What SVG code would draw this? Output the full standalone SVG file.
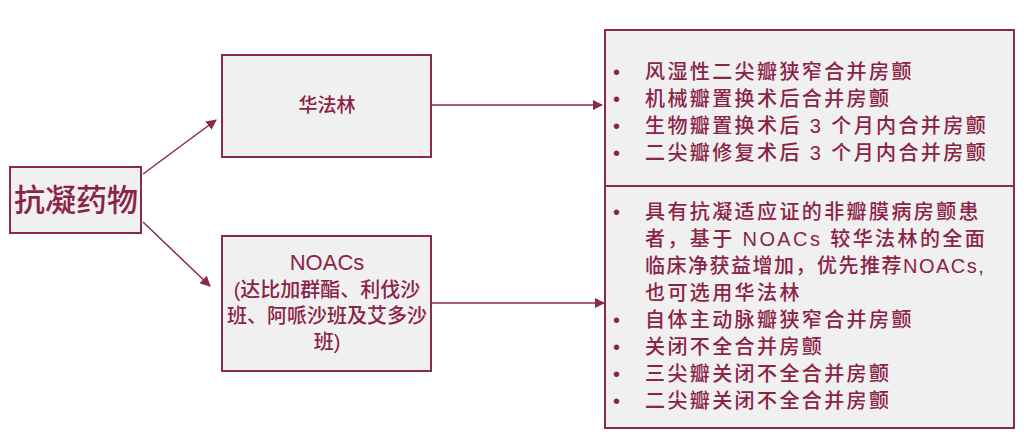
<svg xmlns="http://www.w3.org/2000/svg" width="1024" height="438" viewBox="0 0 1024 438">
<style>
.box{fill:#f0f0f0;stroke:#8b2a4b;stroke-width:2}
text{font-family:"Liberation Sans","Noto Sans CJK SC",sans-serif;fill:#8b2346;dominant-baseline:central;font-weight:500}
.c{text-anchor:middle}
.l{font-size:20px}
.r{font-size:20px;letter-spacing:2.4px}
.con{stroke:#8b2a4b;stroke-width:1.5;fill:none;marker-end:url(#a)}
</style>
<defs><marker id="a" viewBox="0 0 10 10" refX="9" refY="5" markerWidth="7" markerHeight="7" orient="auto"><path d="M0,0L10,5L0,10z" fill="#8b2a4b"/></marker></defs>
<rect width="1024" height="438" fill="#fff"/>
<g id="connectors">
<line class="con" x1="143" y1="174" x2="216" y2="120"/>
<line class="con" x1="143" y1="222" x2="210" y2="286"/>
<line class="con" x1="432" y1="105" x2="602" y2="105"/>
<line class="con" x1="432" y1="303" x2="604" y2="303"/>
</g>
<g id="n1"><rect class="box" x="10" y="167" width="131" height="66"/><text class="c" x="76" y="200" font-size="31">抗凝药物</text></g>
<g id="n2"><rect class="box" x="222" y="55" width="209" height="102"/><text class="c" x="327" y="105" font-size="19">华法林</text></g>
<g id="n3"><rect class="box" x="222" y="236" width="209" height="135"/>
<text class="c" x="327" y="262" font-size="22" font-weight="normal">NOACs</text>
<text class="c l" x="327" y="290">(达比加群酯、利伐沙</text>
<text class="c l" x="327" y="316">班、阿哌沙班及艾多沙</text>
<text class="c l" x="327" y="342">班)</text></g>
<g id="n4"><rect class="box" x="605" y="30" width="409" height="156"/>
<g class="r"><text x="613" y="72">•</text><text x="645" y="72">风湿性二尖瓣狭窄合并房颤</text>
<text x="613" y="99">•</text><text x="645" y="99">机械瓣置换术后合并房颤</text>
<text x="613" y="126">•</text><text x="645" y="126">生物瓣置换术后 3 个月内合并房颤</text>
<text x="613" y="153">•</text><text x="645" y="153">二尖瓣修复术后 3 个月内合并房颤</text></g></g>
<g id="n5"><rect class="box" x="605" y="186" width="409" height="242"/>
<g class="r"><text x="613" y="212">•</text><text x="645" y="212">具有抗凝适应证的非瓣膜病房颤患</text>
<text x="645" y="239">者，基于 NOACs 较华法林的全面</text>
<text x="645" y="266" letter-spacing="1.5">临床净获益增加，优先推荐NOACs,</text>
<text x="645" y="293">也可选用华法林</text>
<text x="613" y="320">•</text><text x="645" y="320">自体主动脉瓣狭窄合并房颤</text>
<text x="613" y="347">•</text><text x="645" y="347">关闭不全合并房颤</text>
<text x="613" y="374">•</text><text x="645" y="374">三尖瓣关闭不全合并房颤</text>
<text x="613" y="401">•</text><text x="645" y="401">二尖瓣关闭不全合并房颤</text></g></g>
</svg>
